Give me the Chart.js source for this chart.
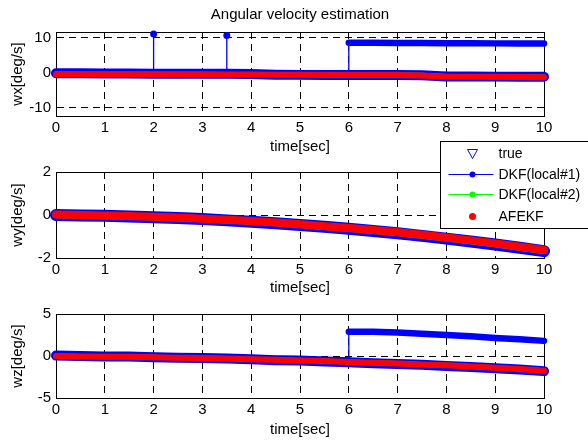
<!DOCTYPE html>
<html>
<head>
<meta charset="utf-8">
<script src="https://cdn.jsdelivr.net/npm/chart.js@4/dist/chart.umd.min.js"></script>
<style>
  body { margin: 0; background: #fff; width: 588px; height: 444px; position: relative; overflow: hidden; }
  canvas { position: absolute; left: 0; }
</style>
</head>
<body>
<canvas id="cx" width="588" height="160" style="top:0px"></canvas>
<canvas id="cy" width="588" height="168" style="top:130px"></canvas>
<canvas id="cz" width="588" height="154" style="top:290px"></canvas>
<script>
// time samples (sec)
const t = [0,0.5,1,1.5,2,2.5,3,3.5,4,4.5,5,5.5,6,6.5,7,7.5,8,8.5,9,9.5,10];
const timeTicks = [0,1,2,3,4,5,6,7,8,9,10];

// wx
const wxTicks = [-10,0,10];
const wxTrue  = [-0.1,-0.1,-0.15,-0.15,-0.2,-0.2,-0.25,-0.25,-0.3,-0.5,-0.55,-0.55,-0.55,-0.6,-0.6,-0.65,-1.0,-1.0,-1.05,-1.05,-1.1];
const wxAfekf = [-0.35,-0.35,-0.35,-0.4,-0.4,-0.4,-0.45,-0.45,-0.45,-0.5,-0.5,-0.55,-0.55,-0.6,-0.6,-0.7,-1.05,-1.1,-1.1,-1.15,-1.2];
const wxDkf2  = [-0.3,-0.35,-0.35,-0.35,-0.4,-0.4,-0.4,-0.45,-0.45,-0.5,-0.5,-0.5,-0.55,-0.55,-0.6,-0.65,-1.0,-1.05,-1.05,-1.1,-1.15];
const wxDkf1T = [0,0.5,1,1.5,2,2,2,2.5,3,3.5,3.5,3.5,4,4.5,5,5.5,6,6,6.5,7,7.5,8,8.5,9,9.5,10];
const wxDkf1  = [0.15,0.1,0.1,0.05,0.05,11.1,0.05,0.0,0.0,-0.05,10.7,-0.05,-0.1,-0.4,-0.45,-0.45,-0.5,8.6,8.6,8.55,8.55,8.5,8.5,8.45,8.45,8.4];

// wy
const wyTicks = [-2,0,2];
const wyTrue  = [0.0,-0.02,-0.04,-0.07,-0.1,-0.14,-0.19,-0.25,-0.31,-0.38,-0.46,-0.55,-0.64,-0.74,-0.85,-0.97,-1.1,-1.23,-1.37,-1.52,-1.68];
const wyAfekf = [0.02,0.0,-0.02,-0.05,-0.08,-0.12,-0.17,-0.22,-0.28,-0.35,-0.43,-0.52,-0.6,-0.7,-0.8,-0.92,-1.05,-1.18,-1.32,-1.48,-1.63];
const wyDkf2  = [0.01,-0.01,-0.03,-0.06,-0.09,-0.13,-0.18,-0.23,-0.29,-0.36,-0.44,-0.53,-0.62,-0.72,-0.82,-0.94,-1.07,-1.2,-1.34,-1.5,-1.65];
const wyDkf1  = [-0.01,-0.03,-0.05,-0.08,-0.11,-0.15,-0.2,-0.26,-0.32,-0.39,-0.47,-0.56,-0.65,-0.75,-0.86,-0.98,-1.11,-1.24,-1.38,-1.53,-1.7];

// wz
const wzTicks = [-5,0,5];
const wzTrue  = [0.05,0.0,-0.05,-0.05,-0.15,-0.2,-0.25,-0.3,-0.4,-0.5,-0.55,-0.65,-0.75,-0.85,-0.95,-1.05,-1.2,-1.3,-1.45,-1.6,-1.8];
const wzAfekf = [0.0,-0.05,-0.1,-0.1,-0.15,-0.2,-0.25,-0.3,-0.4,-0.45,-0.55,-0.6,-0.7,-0.8,-0.9,-1.0,-1.1,-1.25,-1.4,-1.55,-1.75];
const wzDkf2  = [0.0,-0.05,-0.1,-0.1,-0.15,-0.2,-0.25,-0.3,-0.4,-0.45,-0.55,-0.6,-0.7,-0.8,-0.9,-1.0,-1.1,-1.25,-1.4,-1.55,-1.75];
const wzDkf1T = [0,0.5,1,1.5,2,2.5,3,3.5,4,4.5,5,5.5,6,6,6.5,7,7.5,8,8.5,9,9.5,10];
const wzDkf1  = [0.15,0.1,0.1,0.05,0.0,-0.05,-0.15,-0.2,-0.3,-0.35,-0.4,-0.5,-0.55,2.9,2.9,2.8,2.65,2.5,2.35,2.15,2.0,1.8];

const legendNames = ['true','DKF(local#1)','DKF(local#2)','AFEKF'];

const FONT = 'Arial, "Liberation Sans", Helvetica, sans-serif';
Chart.defaults.font.family = FONT;
Chart.defaults.font.size = 15;
Chart.defaults.color = '#000';
Chart.defaults.animation = false;

const pts = (xs, ys) => xs.map((x, i) => ({ x: x, y: ys[i] }));

const boxPlugin = {
  id: 'box',
  beforeDatasetsDraw(chart) {
    const { ctx, chartArea: a } = chart;
    ctx.save();
    ctx.strokeStyle = '#000';
    ctx.lineWidth = 1;
    ctx.setLineDash([]);
    ctx.strokeRect(Math.round(a.left) + 0.5, Math.round(a.top) + 0.5,
                   Math.round(a.right - a.left), Math.round(a.bottom - a.top));
    ctx.restore();
  }
};

const legendPlugin = {
  id: 'mlegend',
  afterDraw(chart) {
    const { ctx, chartArea: a } = chart;
    const left = Math.round(a.right) - 104 + 0.5, top = Math.round(a.top) - 31 + 0.5;
    ctx.save();
    ctx.fillStyle = '#fff';
    ctx.strokeStyle = '#000';
    ctx.lineWidth = 1;
    ctx.fillRect(left, top, 200, 87);
    ctx.strokeRect(left, top, 200, 87);
    const rows = [12, 33, 53, 75];
    const mx = left + 32;
    ctx.font = '14px ' + FONT;
    ctx.textBaseline = 'middle';
    ctx.fillStyle = '#000';
    rows.forEach((dy, i) => ctx.fillText(legendNames[i], left + 58, top + dy + 1));
    // true: hollow down triangle
    const y = top + rows[0];
    ctx.strokeStyle = '#0000ff';
    ctx.beginPath();
    ctx.moveTo(mx - 5, y - 4); ctx.lineTo(mx + 5, y - 4); ctx.lineTo(mx, y + 5); ctx.closePath();
    ctx.stroke();
    // DKF lines with dots
    [['#0000ff', rows[1]], ['#00ff00', rows[2]]].forEach(([c, dy]) => {
      const yy = top + dy;
      ctx.strokeStyle = c; ctx.fillStyle = c;
      ctx.beginPath(); ctx.moveTo(left + 8, yy); ctx.lineTo(left + 53, yy); ctx.stroke();
      ctx.beginPath(); ctx.arc(mx, yy, 3, 0, Math.PI * 2); ctx.fill();
    });
    ctx.fillStyle = '#ff0000';
    ctx.beginPath(); ctx.arc(mx, top + rows[3], 3.5, 0, Math.PI * 2); ctx.fill();
    ctx.restore();
  }
};

function makePlot(id, s) {
  const gridOpts = { color: '#000', lineWidth: 1, drawTicks: false };
  const borderOpts = { display: true, color: '#000', width: 1, dash: [7, 5] };
  const hidden = { display: false };
  const scales = {
    x: {
      type: 'linear', min: 0, max: 10,
      afterBuildTicks: sc => { sc.ticks = timeTicks.map(v => ({ value: v })); },
      afterFit: sc => { sc.height = s.xH; },
      grid: gridOpts, border: borderOpts,
      ticks: { padding: 3 },
      title: { display: true, text: 'time[sec]', padding: { top: 0, bottom: s.xTitlePad } }
    },
    y: {
      type: 'linear', min: s.min, max: s.max,
      afterBuildTicks: sc => { sc.ticks = s.ticks.map(v => ({ value: v })); },
      afterFit: sc => { sc.width = 56; },
      grid: gridOpts, border: borderOpts,
      ticks: { padding: 5 },
      title: { display: true, text: s.label, padding: { top: 9, bottom: 0 } }
    },
    yr: {
      type: 'linear', position: 'right', min: s.min, max: s.max,
      afterFit: sc => { sc.width = 44; },
      grid: hidden, border: hidden, ticks: hidden
    }
  };
  if (s.title) {
    // top axis only carries the figure title, centred over the plot area
    scales.xt = {
      type: 'linear', position: 'top', min: 0, max: 10,
      afterFit: sc => { sc.height = 32; },
      grid: hidden, border: hidden, ticks: hidden,
      title: { display: true, text: s.title, padding: { top: 6, bottom: 0 } }
    };
  }
  return new Chart(document.getElementById(id), {
    type: 'line',
    data: {
      datasets: [
        { label: 'AFEKF', data: pts(t, s.afekf), borderColor: '#ff0000', borderWidth: s.wRed, order: 0 },
        { label: 'DKF(local#2)', data: pts(t, s.dkf2), borderColor: '#00ff00', borderWidth: s.wGreen, order: 1 },
        { label: 'DKF(local#1)', data: pts(s.dkf1T, s.dkf1), borderColor: '#0000ff', order: 2,
          segment: { borderWidth: c => c.p0.parsed.x === c.p1.parsed.x ? 1.3 : s.wDkf1 },
          pointRadius: c => (c.raw && c.raw.y > 10 ? 3.5 : 0),
          pointBackgroundColor: '#0000ff', pointBorderWidth: 0 },
        { label: 'true', data: pts(t, s.truth), borderColor: '#0000ff', borderWidth: s.wTrue, order: 3 }
      ]
    },
    options: {
      responsive: false,
      events: [],
      layout: { padding: { left: 0, right: 0, top: s.padTop, bottom: 0 } },
      elements: {
        point: { radius: 0 },
        line: { tension: 0, borderCapStyle: 'round', borderJoinStyle: 'round', fill: false }
      },
      datasets: { line: { clip: false } },
      plugins: { legend: { display: false }, tooltip: { enabled: false } },
      scales: scales
    },
    plugins: s.legend ? [boxPlugin, legendPlugin] : [boxPlugin]
  });
}

makePlot('cx', {
  title: 'Angular velocity estimation', label: 'wx[deg/s]', min: -12.3, max: 11.7, ticks: wxTicks,
  truth: wxTrue, afekf: wxAfekf, dkf2: wxDkf2, dkf1: wxDkf1, dkf1T: wxDkf1T,
  wTrue: 10, wRed: 6, wGreen: 5, wDkf1: 6.5, padTop: 0, xH: 44, xTitlePad: 4
});
makePlot('cy', {
  label: 'wy[deg/s]', min: -2, max: 2, ticks: wyTicks,
  truth: wyTrue, afekf: wyAfekf, dkf2: wyDkf2, dkf1: wyDkf1, dkf1T: t,
  wTrue: 12, wRed: 8, wGreen: 7, wDkf1: 10, padTop: 42, xH: 40, xTitlePad: 1, legend: true
});
makePlot('cz', {
  label: 'wz[deg/s]', min: -5, max: 5, ticks: wzTicks,
  truth: wzTrue, afekf: wzAfekf, dkf2: wzDkf2, dkf1: wzDkf1, dkf1T: wzDkf1T,
  wTrue: 10, wRed: 6, wGreen: 5, wDkf1: 6.5, padTop: 24, xH: 46, xTitlePad: 5
});
</script>
</body>
</html>
